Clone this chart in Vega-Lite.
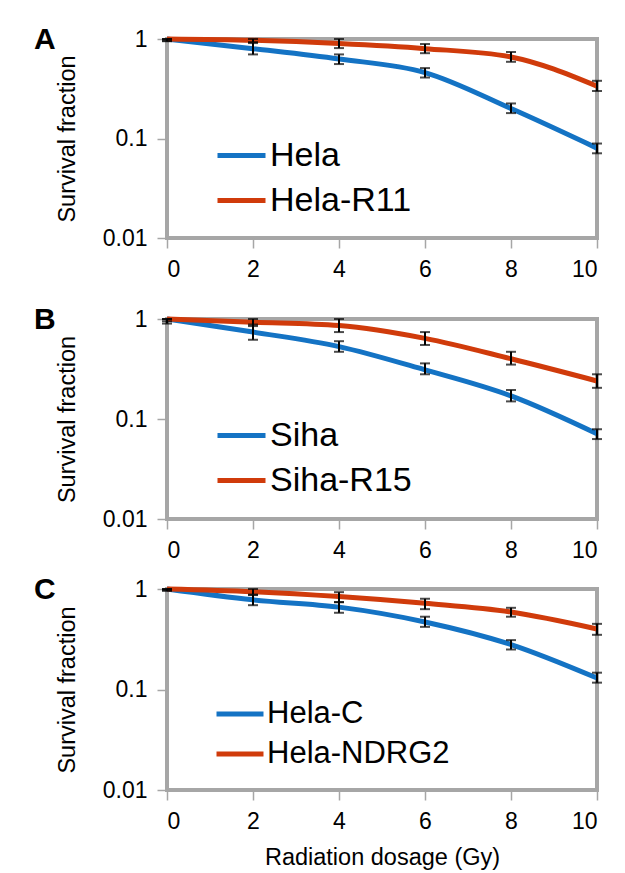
{
  "$schema": "https://vega.github.io/schema/vega-lite/v6.json",
  "padding": {"left": 32, "top": 23, "right": 5, "bottom": 0},
  "datasets": {
    "curves": [
      {"panel": "A", "series": "Hela", "dose": 0, "sf": 1.0, "lo": 0.95, "hi": 1.0},
      {"panel": "A", "series": "Hela", "dose": 2, "sf": 0.8, "lo": 0.7, "hi": 0.91},
      {"panel": "A", "series": "Hela", "dose": 4, "sf": 0.63, "lo": 0.56, "hi": 0.7},
      {"panel": "A", "series": "Hela", "dose": 6, "sf": 0.46, "lo": 0.41, "hi": 0.51},
      {"panel": "A", "series": "Hela", "dose": 8, "sf": 0.2, "lo": 0.18, "hi": 0.225},
      {"panel": "A", "series": "Hela", "dose": 10, "sf": 0.08, "lo": 0.071, "hi": 0.089},
      {"panel": "A", "series": "Hela-R11", "dose": 0, "sf": 1.0, "lo": 0.96, "hi": 1.0},
      {"panel": "A", "series": "Hela-R11", "dose": 2, "sf": 0.97, "lo": 0.93, "hi": 1.0},
      {"panel": "A", "series": "Hela-R11", "dose": 4, "sf": 0.9, "lo": 0.81, "hi": 1.0},
      {"panel": "A", "series": "Hela-R11", "dose": 6, "sf": 0.8, "lo": 0.72, "hi": 0.89},
      {"panel": "A", "series": "Hela-R11", "dose": 8, "sf": 0.66, "lo": 0.59, "hi": 0.74},
      {"panel": "A", "series": "Hela-R11", "dose": 10, "sf": 0.335, "lo": 0.3, "hi": 0.38},
      {"panel": "B", "series": "Siha", "dose": 0, "sf": 1.0, "lo": 0.9, "hi": 1.0},
      {"panel": "B", "series": "Siha", "dose": 2, "sf": 0.74, "lo": 0.62, "hi": 0.88},
      {"panel": "B", "series": "Siha", "dose": 4, "sf": 0.53, "lo": 0.47, "hi": 0.6},
      {"panel": "B", "series": "Siha", "dose": 6, "sf": 0.31, "lo": 0.28, "hi": 0.36},
      {"panel": "B", "series": "Siha", "dose": 8, "sf": 0.17, "lo": 0.15, "hi": 0.195},
      {"panel": "B", "series": "Siha", "dose": 10, "sf": 0.071, "lo": 0.063, "hi": 0.079},
      {"panel": "B", "series": "Siha-R15", "dose": 0, "sf": 1.0, "lo": 0.95, "hi": 1.0},
      {"panel": "B", "series": "Siha-R15", "dose": 2, "sf": 0.93, "lo": 0.85, "hi": 1.0},
      {"panel": "B", "series": "Siha-R15", "dose": 4, "sf": 0.86, "lo": 0.74, "hi": 1.0},
      {"panel": "B", "series": "Siha-R15", "dose": 6, "sf": 0.64, "lo": 0.55, "hi": 0.74},
      {"panel": "B", "series": "Siha-R15", "dose": 8, "sf": 0.4, "lo": 0.35, "hi": 0.47},
      {"panel": "B", "series": "Siha-R15", "dose": 10, "sf": 0.24, "lo": 0.205, "hi": 0.28},
      {"panel": "C", "series": "Hela-C", "dose": 0, "sf": 1.0, "lo": 0.96, "hi": 1.0},
      {"panel": "C", "series": "Hela-C", "dose": 2, "sf": 0.78, "lo": 0.69, "hi": 0.87},
      {"panel": "C", "series": "Hela-C", "dose": 4, "sf": 0.66, "lo": 0.58, "hi": 0.74},
      {"panel": "C", "series": "Hela-C", "dose": 6, "sf": 0.47, "lo": 0.42, "hi": 0.53},
      {"panel": "C", "series": "Hela-C", "dose": 8, "sf": 0.28, "lo": 0.25, "hi": 0.31},
      {"panel": "C", "series": "Hela-C", "dose": 10, "sf": 0.13, "lo": 0.117, "hi": 0.147},
      {"panel": "C", "series": "Hela-NDRG2", "dose": 0, "sf": 1.0, "lo": 0.97, "hi": 1.0},
      {"panel": "C", "series": "Hela-NDRG2", "dose": 2, "sf": 0.94, "lo": 0.88, "hi": 1.0},
      {"panel": "C", "series": "Hela-NDRG2", "dose": 4, "sf": 0.84, "lo": 0.74, "hi": 0.93},
      {"panel": "C", "series": "Hela-NDRG2", "dose": 6, "sf": 0.72, "lo": 0.63, "hi": 0.8},
      {"panel": "C", "series": "Hela-NDRG2", "dose": 8, "sf": 0.59, "lo": 0.53, "hi": 0.65},
      {"panel": "C", "series": "Hela-NDRG2", "dose": 10, "sf": 0.4, "lo": 0.35, "hi": 0.45}
    ]
  },
  "data": {"name": "curves"},
  "resolve": {"scale": {"color": "independent"}, "legend": {"color": "independent"}},
  "spacing": 20,
  "vconcat": [
    {
      "width": 430, "height": 199,
      "title": {"text": "A", "anchor": "start", "frame": "group", "dx": -133, "dy": 0, "fontSize": 30, "fontWeight": "bold", "baseline": "alphabetic", "offset": -51},
      "transform": [{"filter": "datum.panel == 'A'"}],
      "encoding": {
        "x": {"field": "dose", "type": "quantitative", "scale": {"domain": [0, 10], "nice": false}, "axis": {"values": [0, 2, 4, 6, 8, 10], "title": null}}
      },
      "layer": [
        {
          "mark": {"type": "line", "interpolate": "monotone", "strokeWidth": 5},
          "encoding": {
            "y": {"field": "sf", "type": "quantitative", "scale": {"type": "log", "domain": [0.01, 1]}, "axis": {"values": [0.01, 0.1, 1], "format": "~g", "title": "Survival fraction"}},
            "color": {"field": "series", "type": "nominal", "scale": {"domain": ["Hela", "Hela-R11"], "range": ["#1473C4", "#D03B0B"]},
              "legend": {"orient": "none", "legendX": 48, "legendY": 90, "title": null, "symbolType": "stroke", "symbolSize": 2304, "symbolStrokeWidth": 5, "labelFontSize": 34, "labelOffset": 2, "rowPadding": 1, "padding": 0, "labelLimit": 400}}
          }
        },
        {
          "mark": {"type": "errorbar", "color": "black", "thickness": 2, "ticks": {"size": 10, "thickness": 2}},
          "encoding": {"y": {"field": "lo", "type": "quantitative", "title": "Survival fraction"}, "y2": {"field": "hi"}}
        }
      ]
    },
    {
      "resolve": {"scale": {"color": "independent"}, "legend": {"color": "independent"}},
      "spacing": 9,
      "vconcat": [
        {
          "width": 430, "height": 200,
          "title": {"text": "B", "anchor": "start", "frame": "group", "dx": -133, "dy": 0, "fontSize": 30, "fontWeight": "bold", "baseline": "alphabetic", "offset": -51},
          "transform": [{"filter": "datum.panel == 'B'"}],
          "encoding": {
            "x": {"field": "dose", "type": "quantitative", "scale": {"domain": [0, 10], "nice": false}, "axis": {"values": [0, 2, 4, 6, 8, 10], "title": null}}
          },
          "layer": [
            {
              "mark": {"type": "line", "interpolate": "monotone", "strokeWidth": 5},
              "encoding": {
                "y": {"field": "sf", "type": "quantitative", "scale": {"type": "log", "domain": [0.01, 1]}, "axis": {"values": [0.01, 0.1, 1], "format": "~g", "title": "Survival fraction"}},
                "color": {"field": "series", "type": "nominal", "scale": {"domain": ["Siha", "Siha-R15"], "range": ["#1473C4", "#D03B0B"]},
                  "legend": {"orient": "none", "legendX": 48, "legendY": 90, "title": null, "symbolType": "stroke", "symbolSize": 2304, "symbolStrokeWidth": 5, "labelFontSize": 34, "labelOffset": 2, "rowPadding": 1, "padding": 0, "labelLimit": 400}}
              }
            },
            {
              "mark": {"type": "errorbar", "color": "black", "thickness": 2, "ticks": {"size": 10, "thickness": 2}},
              "encoding": {"y": {"field": "lo", "type": "quantitative", "title": "Survival fraction"}, "y2": {"field": "hi"}}
            }
          ]
        },
        {
          "width": 430, "height": 201,
          "title": {"text": "C", "anchor": "start", "frame": "group", "dx": -133, "dy": 0, "fontSize": 30, "fontWeight": "bold", "baseline": "alphabetic", "offset": -51},
          "transform": [{"filter": "datum.panel == 'C'"}],
          "encoding": {
            "x": {"field": "dose", "type": "quantitative", "scale": {"domain": [0, 10], "nice": false}, "axis": {"values": [0, 2, 4, 6, 8, 10], "title": "Radiation dosage (Gy)", "titlePadding": 12}}
          },
          "layer": [
            {
              "mark": {"type": "line", "interpolate": "monotone", "strokeWidth": 5},
              "encoding": {
                "y": {"field": "sf", "type": "quantitative", "scale": {"type": "log", "domain": [0.01, 1]}, "axis": {"values": [0.01, 0.1, 1], "format": "~g", "title": "Survival fraction"}},
                "color": {"field": "series", "type": "nominal", "scale": {"domain": ["Hela-C", "Hela-NDRG2"], "range": ["#1473C4", "#D03B0B"]},
                  "legend": {"orient": "none", "legendX": 52, "legendY": 104, "title": null, "symbolType": "M-1.27,0H1.27", "symbolSize": 1369, "symbolStrokeWidth": 5, "labelFontSize": 31, "labelOffset": 6, "rowPadding": 4, "padding": 0, "labelLimit": 400}}
              }
            },
            {
              "mark": {"type": "errorbar", "color": "black", "thickness": 2, "ticks": {"size": 10, "thickness": 2}},
              "encoding": {"y": {"field": "lo", "type": "quantitative", "title": "Survival fraction"}, "y2": {"field": "hi"}}
            }
          ]
        }
      ]
    }
  ],
  "config": {
    "font": "Liberation Sans",
    "view": {"stroke": "#A6A6A6", "strokeWidth": 4},
    "axis": {"grid": false, "domain": false, "tickColor": "#A6A6A6", "tickSize": 10, "tickWidth": 1.5, "labelColor": "black", "labelFontSize": 23, "labelPadding": 10, "titleFontSize": 23.5, "titleFontWeight": "normal", "titleColor": "black", "titlePadding": 23},
    "legend": {"labelColor": "black", "labelFont": "Liberation Sans"},
    "title": {"color": "black"}
  }
}
